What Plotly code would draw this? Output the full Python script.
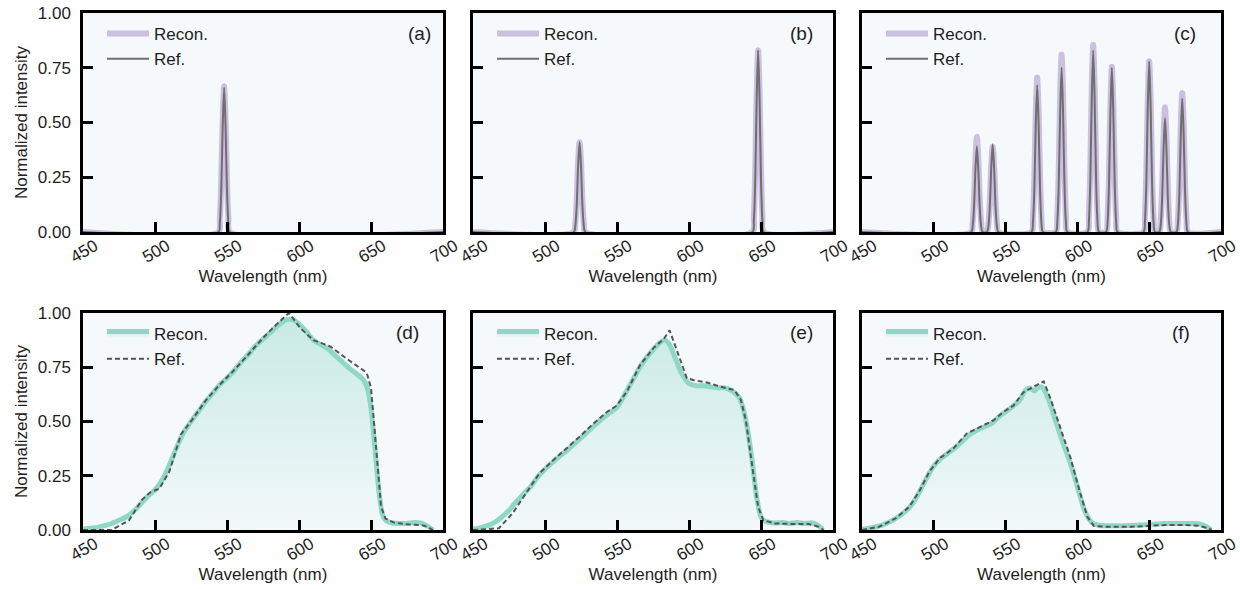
import plotly.graph_objects as go

# ---------------- data ----------------
A_WL = [450, 544, 545, 546, 547, 548, 549, 550, 551, 552, 700]
A_REF = [0, 0, 0.04, 0.19, 0.48, 0.66, 0.48, 0.19, 0.04, 0, 0]
A_REC = [0, 0, 0.06, 0.23, 0.51, 0.665, 0.51, 0.23, 0.06, 0, 0]

B_WL = [450, 520, 521, 522, 523, 524, 525, 526, 527, 528,
        644, 645, 646, 647, 648, 649, 650, 651, 652, 700]
B_REF = [0, 0, 0.025, 0.12, 0.30, 0.41, 0.30, 0.12, 0.025, 0,
         0, 0.05, 0.24, 0.605, 0.83, 0.605, 0.24, 0.05, 0, 0]
B_REC = [0, 0, 0.035, 0.14, 0.32, 0.41, 0.32, 0.14, 0.035, 0,
         0, 0.07, 0.29, 0.64, 0.83, 0.64, 0.29, 0.07, 0, 0]

C_WL = [450,
        526, 527, 528, 529, 530, 531, 532, 533, 534,
        537, 538, 539, 540, 541, 542, 543, 544, 545,
        568, 569, 570, 571, 572, 573, 574, 575, 576,
        585, 586, 587, 588, 589, 590, 591, 592, 593,
        607, 608, 609, 610, 611, 612, 613, 614, 615,
        620, 621, 622, 623, 624, 625, 626, 627, 628,
        646, 647, 648, 649, 650, 651, 652, 653, 654,
        657, 658, 659, 660, 661, 662, 663, 664, 665,
        669, 670, 671, 672, 673, 674, 675, 676, 677,
        700]
C_REF = [0,
         0, 0.023, 0.113, 0.285, 0.39, 0.285, 0.113, 0.023, 0,
         0, 0.024, 0.116, 0.292, 0.40, 0.292, 0.116, 0.024, 0,
         0, 0.040, 0.194, 0.489, 0.67, 0.489, 0.194, 0.040, 0,
         0, 0.045, 0.218, 0.548, 0.75, 0.548, 0.218, 0.045, 0,
         0, 0.050, 0.241, 0.606, 0.83, 0.606, 0.241, 0.050, 0,
         0, 0.045, 0.218, 0.548, 0.75, 0.548, 0.218, 0.045, 0,
         0, 0.047, 0.226, 0.569, 0.78, 0.569, 0.226, 0.047, 0,
         0, 0.031, 0.151, 0.380, 0.52, 0.380, 0.151, 0.031, 0,
         0, 0.037, 0.177, 0.445, 0.61, 0.445, 0.177, 0.037, 0,
         0]
C_REC = [0,
         0, 0.039, 0.152, 0.335, 0.435, 0.335, 0.152, 0.039, 0,
         0, 0.035, 0.137, 0.300, 0.39, 0.300, 0.137, 0.035, 0,
         0, 0.063, 0.247, 0.543, 0.705, 0.543, 0.247, 0.063, 0,
         0, 0.073, 0.284, 0.624, 0.81, 0.624, 0.284, 0.073, 0,
         0, 0.077, 0.299, 0.658, 0.855, 0.658, 0.299, 0.077, 0,
         0, 0.068, 0.264, 0.581, 0.755, 0.581, 0.264, 0.068, 0,
         0, 0.070, 0.273, 0.601, 0.78, 0.601, 0.273, 0.070, 0,
         0, 0.051, 0.200, 0.439, 0.57, 0.439, 0.200, 0.051, 0,
         0, 0.057, 0.222, 0.489, 0.635, 0.489, 0.222, 0.057, 0,
         0]

D_WL_REF = [450, 470, 482, 491, 497, 503, 510, 518, 526, 535, 545, 554, 565, 575, 584,
            593, 601, 610, 622, 633, 647, 650, 652, 654.5, 657, 660, 666, 675, 685, 689, 693]
D_REF = [0, 0.0, 0.045, 0.14, 0.175, 0.19, 0.27, 0.44, 0.51, 0.595, 0.67, 0.73, 0.81, 0.885, 0.945,
         1.0, 0.93, 0.875, 0.845, 0.79, 0.725, 0.655, 0.50, 0.29, 0.107, 0.053, 0.034, 0.026, 0.023, 0.015, 0]
D_WL_REC = [450, 455, 460, 465, 470, 475, 480, 485, 490, 495, 500, 505, 510, 515, 520, 525, 530,
            535, 540, 545, 550, 555, 560, 565, 570, 575, 580, 585, 590, 595, 600, 605, 610, 615,
            620, 625, 630, 635, 640, 645, 648, 650, 652, 654, 656, 658, 660, 665, 670, 675, 680,
            685, 690, 693]
D_REC = [0.005, 0.008, 0.012, 0.02, 0.03, 0.045, 0.06, 0.085, 0.12, 0.155, 0.185, 0.23, 0.30, 0.38,
         0.45, 0.50, 0.545, 0.59, 0.63, 0.67, 0.70, 0.735, 0.775, 0.81, 0.85, 0.88, 0.91, 0.94,
         0.965, 0.97, 0.95, 0.915, 0.875, 0.855, 0.835, 0.805, 0.775, 0.745, 0.72, 0.69, 0.64,
         0.56, 0.43, 0.28, 0.15, 0.07, 0.045, 0.032, 0.03, 0.03, 0.035, 0.032, 0.015, 0.0]

E_WL_REF = [450, 468, 477.5, 487, 496, 505.5, 515, 524, 533.5, 543, 550, 557, 566, 575.5, 582.5,
            586.5, 592, 598.5, 603.5, 612.5, 622, 631.5, 636, 639.5, 644, 648, 651.5, 659.5, 671,
            683, 690, 693.5]
E_REF = [0, 0.008, 0.077, 0.17, 0.26, 0.32, 0.375, 0.43, 0.49, 0.544, 0.574, 0.64, 0.76, 0.84, 0.88,
         0.92, 0.82, 0.70, 0.69, 0.68, 0.66, 0.645, 0.60, 0.505, 0.29, 0.107, 0.046, 0.03, 0.028,
         0.028, 0.015, 0]
E_WL_REC = [450, 455, 460, 465, 470, 475, 480, 485, 490, 495, 500, 505, 510, 515, 520, 525, 530,
            535, 540, 545, 550, 555, 560, 565, 570, 575, 580, 583, 586, 590, 595, 600, 605, 610,
            615, 620, 625, 630, 635, 638, 641, 644, 647, 650, 653, 660, 665, 670, 675, 680, 685,
            690, 693]
E_REC = [0.005, 0.01, 0.02, 0.035, 0.06, 0.09, 0.13, 0.165, 0.20, 0.245, 0.28, 0.31, 0.34, 0.365,
         0.395, 0.425, 0.455, 0.485, 0.515, 0.54, 0.565, 0.62, 0.68, 0.74, 0.79, 0.83, 0.865, 0.875,
         0.86, 0.80, 0.72, 0.675, 0.665, 0.665, 0.66, 0.655, 0.655, 0.64, 0.61, 0.55, 0.45, 0.31,
         0.15, 0.06, 0.04, 0.032, 0.035, 0.03, 0.035, 0.03, 0.033, 0.02, 0.0]

F_WL_REF = [450, 462, 473.5, 483, 490, 497, 504, 513.5, 523, 532, 541.5, 548.5, 555.5, 562.5, 569.5,
            576.5, 581, 588, 595, 602, 607, 611.5, 621, 637.5, 649, 661, 675, 684, 691, 693.5]
F_REF = [0, 0.015, 0.054, 0.107, 0.18, 0.27, 0.33, 0.375, 0.445, 0.475, 0.505, 0.544, 0.574, 0.635,
         0.66, 0.685, 0.61, 0.475, 0.337, 0.168, 0.06, 0.018, 0.015, 0.015, 0.018, 0.023, 0.023,
         0.02, 0.008, 0]
F_WL_REC = [450, 455, 460, 465, 470, 475, 480, 485, 490, 495, 500, 505, 510, 515, 520, 525, 530,
            535, 540, 545, 550, 555, 560, 564, 567, 570, 573, 576, 580, 585, 590, 595, 600, 605,
            610, 615, 620, 630, 640, 650, 660, 670, 680, 685, 690, 693]
F_REC = [0.003, 0.008, 0.015, 0.025, 0.04, 0.06, 0.085, 0.12, 0.175, 0.24, 0.295, 0.33, 0.355, 0.38,
         0.41, 0.44, 0.46, 0.475, 0.49, 0.52, 0.545, 0.57, 0.60, 0.645, 0.655, 0.64, 0.66, 0.655,
         0.60, 0.50, 0.40, 0.31, 0.20, 0.09, 0.035, 0.022, 0.02, 0.02, 0.022, 0.025, 0.03, 0.03,
         0.03, 0.028, 0.015, 0.0]

PANEL_LABELS = ["(a)", "(b)", "(c)", "(d)", "(e)", "(f)"]
X_TICKS = [450, 500, 550, 600, 650, 700]
Y_TICKS = [0, 0.25, 0.5, 0.75, 1.0]
Y_TICKTEXT = ["0.00", "0.25", "0.50", "0.75", "1.00"]

# ---------------- styling ----------------
W, H = 1240, 589
FONT = "Arial, Liberation Sans, sans-serif"
TXT = "#1e1e1e"
LAV = "#cbc0e0"
GRAY = "#6f6f6f"
TEAL = "#8fd7c7"
DASH = "#555555"
BG = "#f5f9fc"

# panel pixel boxes: (left, right, top, bottom)
BOXES = [(83, 443, 13, 232), (473, 833, 13, 232), (862, 1221, 13, 232),
         (83, 443, 313, 530), (473, 833, 313, 530), (862, 1221, 313, 530)]
LABEL_POS = [0.972, 0.95, 0.936, 0.939, 0.95, 0.919]

fig = go.Figure()

top_data = [(A_WL, A_REC, A_WL, A_REF), (B_WL, B_REC, B_WL, B_REF), (C_WL, C_REC, C_WL, C_REF)]
bot_data = [(D_WL_REC, D_REC, D_WL_REF, D_REF), (E_WL_REC, E_REC, E_WL_REF, E_REF),
            (F_WL_REC, F_REC, F_WL_REF, F_REF)]

for i in range(6):
    k = "" if i == 0 else str(i + 1)
    xa, ya = "x" + k, "y" + k
    lg = "legend" + k
    if i < 3:
        wr, rr, wf, rf = top_data[i]
        fig.add_trace(go.Scatter(x=wr, y=rr, xaxis=xa, yaxis=ya, mode="lines", name="Recon.",
                                 line=dict(color=LAV, width=6, shape="spline", smoothing=0.8),
                                 legend=lg, legendgroup="r" + k))
        fig.add_trace(go.Scatter(x=wf, y=rf, xaxis=xa, yaxis=ya, mode="lines", name="Ref.",
                                 line=dict(color=GRAY, width=2, shape="spline", smoothing=0.8),
                                 legend=lg, legendgroup="f" + k))
    else:
        wr, rr, wf, rf = bot_data[i - 3]
        fig.add_trace(go.Scatter(x=wr, y=rr, xaxis=xa, yaxis=ya, mode="lines", name="Recon.",
                                 line=dict(color=TEAL, width=5, shape="spline", smoothing=0.6),
                                 fill="tozeroy",
                                 fillgradient=dict(type="vertical", start=0, stop=1,
                                                   colorscale=[[0, "rgba(143,215,199,0.03)"],
                                                               [1, "rgba(143,215,199,0.45)"]]),
                                 legend=lg, legendgroup="r" + k))
        fig.add_trace(go.Scatter(x=wf, y=rf, xaxis=xa, yaxis=ya, mode="lines", name="Ref.",
                                 line=dict(color=DASH, width=2, dash="5px,3px"),
                                 legend=lg, legendgroup="f" + k))

    l, r, t, b = BOXES[i]
    xdom = [l / W, r / W]
    ydom = [1 - b / H, 1 - t / H]
    axis_common = dict(showline=True, linewidth=2.5, linecolor="black", mirror=True,
                       ticks="inside", ticklen=10, tickwidth=2.5, tickcolor="black",
                       showgrid=False, zeroline=False, automargin=False,
                       tickfont=dict(family=FONT, size=17, color=TXT))
    fig.update_layout({
        "xaxis" + k: dict(domain=xdom, range=[450, 700], anchor=ya, tickvals=X_TICKS,
                          tickangle=-30, ticklabelshift=12, ticklabelstandoff=-5,
                          title=dict(text="Wavelength (nm)", font=dict(family=FONT, size=17, color=TXT),
                                     standoff=0),
                          **axis_common),
        "yaxis" + k: dict(domain=ydom, range=[0, 1], anchor=xa, tickvals=Y_TICKS,
                          ticktext=Y_TICKTEXT, showticklabels=(i in (0, 3)),
                          ticklabelstandoff=6,
                          title=dict(text="Normalized intensity" if i in (0, 3) else "",
                                     font=dict(family=FONT, size=17, color=TXT), standoff=6),
                          **axis_common),
        lg: dict(x=(l + 19) / W, y=1 - (t + 3) / H, xanchor="left", yanchor="top",
                 bgcolor="rgba(0,0,0,0)", font=dict(family=FONT, size=17, color=TXT),
                 itemwidth=42, tracegroupgap=0, traceorder="grouped"),
    })
    fig.add_annotation(text=PANEL_LABELS[i], xref=xa + " domain", yref=ya + " domain",
                       x=LABEL_POS[i], y=0.908, xanchor="right", yanchor="middle", showarrow=False,
                       font=dict(family=FONT, size=19, color=TXT))

fig.update_layout(width=W, height=H, margin=dict(l=0, r=0, t=0, b=0),
                  paper_bgcolor="white", plot_bgcolor=BG, showlegend=True)

fig.write_html("out.html", config={"displayModeBar": False},
               post_script="document.body.style.margin='0px';document.body.style.overflow='hidden';")
